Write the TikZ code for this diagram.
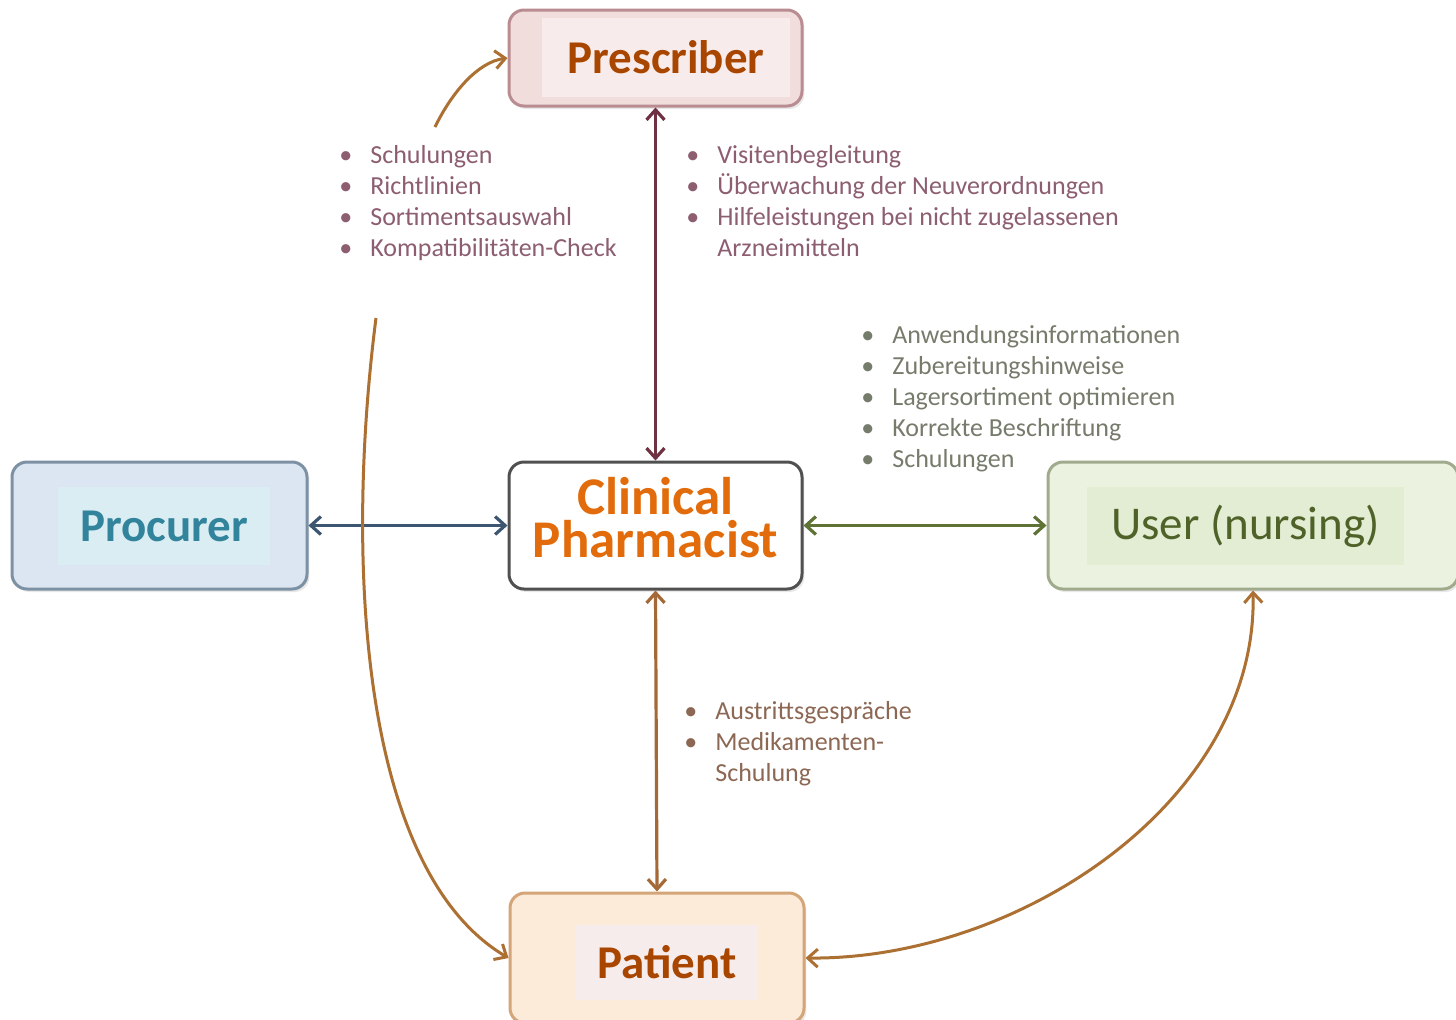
\documentclass[tikz,border=0pt]{standalone}
\usepackage{fontspec}
\setmainfont{Carlito}
\usetikzlibrary{arrows.meta,shadows,calc}
\definecolor{prescFill}{RGB}{242,221,221}
\definecolor{prescDraw}{RGB}{185,140,145}
\definecolor{prescIn}{RGB}{248,235,235}
\definecolor{procFill}{RGB}{220,230,242}
\definecolor{procDraw}{RGB}{125,145,165}
\definecolor{procIn}{RGB}{218,237,243}
\definecolor{userFill}{RGB}{236,242,224}
\definecolor{userDraw}{RGB}{160,170,140}
\definecolor{userIn}{RGB}{226,237,212}
\definecolor{patFill}{RGB}{253,235,218}
\definecolor{patDraw}{RGB}{212,165,120}
\definecolor{patIn}{RGB}{247,236,236}
\definecolor{cpDraw}{RGB}{80,80,80}
\definecolor{brownTxt}{RGB}{168,70,0}
\definecolor{tealTxt}{RGB}{49,132,155}
\definecolor{oliveTxt}{RGB}{79,98,40}
\definecolor{orangeTxt}{RGB}{226,108,12}
\definecolor{mauve}{RGB}{140,94,112}
\definecolor{greyolive}{RGB}{118,124,108}
\definecolor{brownish}{RGB}{140,104,84}
\definecolor{arPresc}{RGB}{110,50,66}
\definecolor{arProc}{RGB}{60,85,112}
\definecolor{arUser}{RGB}{95,115,55}
\definecolor{arPat}{RGB}{165,105,55}
\definecolor{arCurve}{RGB}{172,112,50}
\tikzset{
  boxstyle/.style={rounded corners=7.5pt, line width=1.5pt, inner sep=0pt,
    drop shadow={opacity=0.18, shadow xshift=1.2pt, shadow yshift=-1.5pt}},
  inbox/.style={inner sep=0pt, draw=none},
  lbl/.style={font=\fontsize{23.5}{28}\selectfont\bfseries},
  cptext/.style={inner sep=0pt, text=orangeTxt, font=\fontsize{26.5}{26.5}\selectfont\bfseries, text height=0.7em, text depth=0pt},
  listtext/.style={inner sep=0pt, font=\fontsize{13}{15.5}\selectfont},
  barb/.tip={Straight Barb[length=5pt,width=9pt]},
  conn/.style={line width=1.6pt, barb-barb},
  oneway/.style={line width=1.5pt, -barb}
}
\begin{document}
\begin{tikzpicture}[x=0.5pt,y=-0.5pt]
\useasboundingbox[fill=white] (0,0) rectangle (1456,1019);

% boxes
\node[boxstyle, fill=prescFill, draw=prescDraw, minimum width=146.5pt, minimum height=48pt] (presc) at (655.5,58) {};
\node[inbox, fill=prescIn, minimum width=124pt, minimum height=39.5pt, lbl, text=brownTxt] (prescT) at (666,57.5) {Prescriber};

\node[boxstyle, fill=white, draw=cpDraw, minimum width=146.5pt, minimum height=63.5pt] (cp) at (655.5,525.5) {};
\node[cptext, anchor=base] (cpT1) at (655.5,514) {Clinical};
\node[cptext, anchor=base] (cpT2) at (655.5,557) {Pharmacist};

\node[boxstyle, fill=procFill, draw=procDraw, minimum width=147.5pt, minimum height=63.5pt] (proc) at (159.5,525.5) {};
\node[inbox, fill=procIn, minimum width=106pt, minimum height=39pt, lbl, text=tealTxt] (procT) at (164,526) {Procurer};

\node[boxstyle, fill=userFill, draw=userDraw, minimum width=205pt, minimum height=63.5pt] (user) at (1253,525.5) {};
\node[inbox, fill=userIn, minimum width=158.5pt, minimum height=39pt, text=oliveTxt, font=\fontsize{23.5}{28}\selectfont] (userT) at (1245.5,526) {User (nursing)};

\node[boxstyle, fill=patFill, draw=patDraw, minimum width=147pt, minimum height=65pt] (pat) at (657,958) {};
\node[inbox, fill=patIn, minimum width=91pt, minimum height=37.5pt, lbl, text=brownTxt] (patT) at (667,962) {Patient};

% straight connectors
\draw[conn, arPresc] (presc.south) -- (cp.north);
\draw[conn, arProc] (proc.east) -- (cp.west);
\draw[conn, arUser] (cp.east) -- (user.west);
\draw[conn, arPat] (cp.south) -- (pat.north);

% curved connectors
\coordinate (c1) at (435,127);
\coordinate (c2) at (376,318);
\draw[oneway, arCurve] (c1) .. controls (452,92) and (478,62) .. (presc.west);
\draw[oneway, arCurve] (c2) .. controls (345,560) and (360,870) .. (pat.west);
\draw[conn, arCurve, line width=1.5pt] (pat.east) .. controls (1020,960) and (1258,800) .. (user.south);

% lists
\node[listtext, text=mauve, anchor=base west] (l1) at (339,163) {%
\begin{tabular}[t]{@{}l@{\hspace{9pt}}l@{}}
\textbullet & Schulungen\\
\textbullet & Richtlinien\\
\textbullet & Sortimentsauswahl\\
\textbullet & Kompatibilitäten-Check
\end{tabular}};

\node[listtext, text=mauve, anchor=base west] (l2) at (686,163) {%
\begin{tabular}[t]{@{}l@{\hspace{9pt}}l@{}}
\textbullet & Visitenbegleitung\\
\textbullet & Überwachung der Neuverordnungen\\
\textbullet & Hilfeleistungen bei nicht zugelassenen\\
 & Arzneimitteln
\end{tabular}};

\node[listtext, text=greyolive, anchor=base west] (l3) at (861,343) {%
\begin{tabular}[t]{@{}l@{\hspace{9pt}}l@{}}
\textbullet & Anwendungsinformationen\\
\textbullet & Zubereitungshinweise\\
\textbullet & Lagersortiment optimieren\\
\textbullet & Korrekte Beschriftung\\
\textbullet & Schulungen
\end{tabular}};

\node[listtext, text=brownish, anchor=base west] (l4) at (684,719) {%
\begin{tabular}[t]{@{}l@{\hspace{9pt}}l@{}}
\textbullet & Austrittsgespräche\\
\textbullet & Medikamenten-\\
 & Schulung
\end{tabular}};
\end{tikzpicture}
\end{document}
